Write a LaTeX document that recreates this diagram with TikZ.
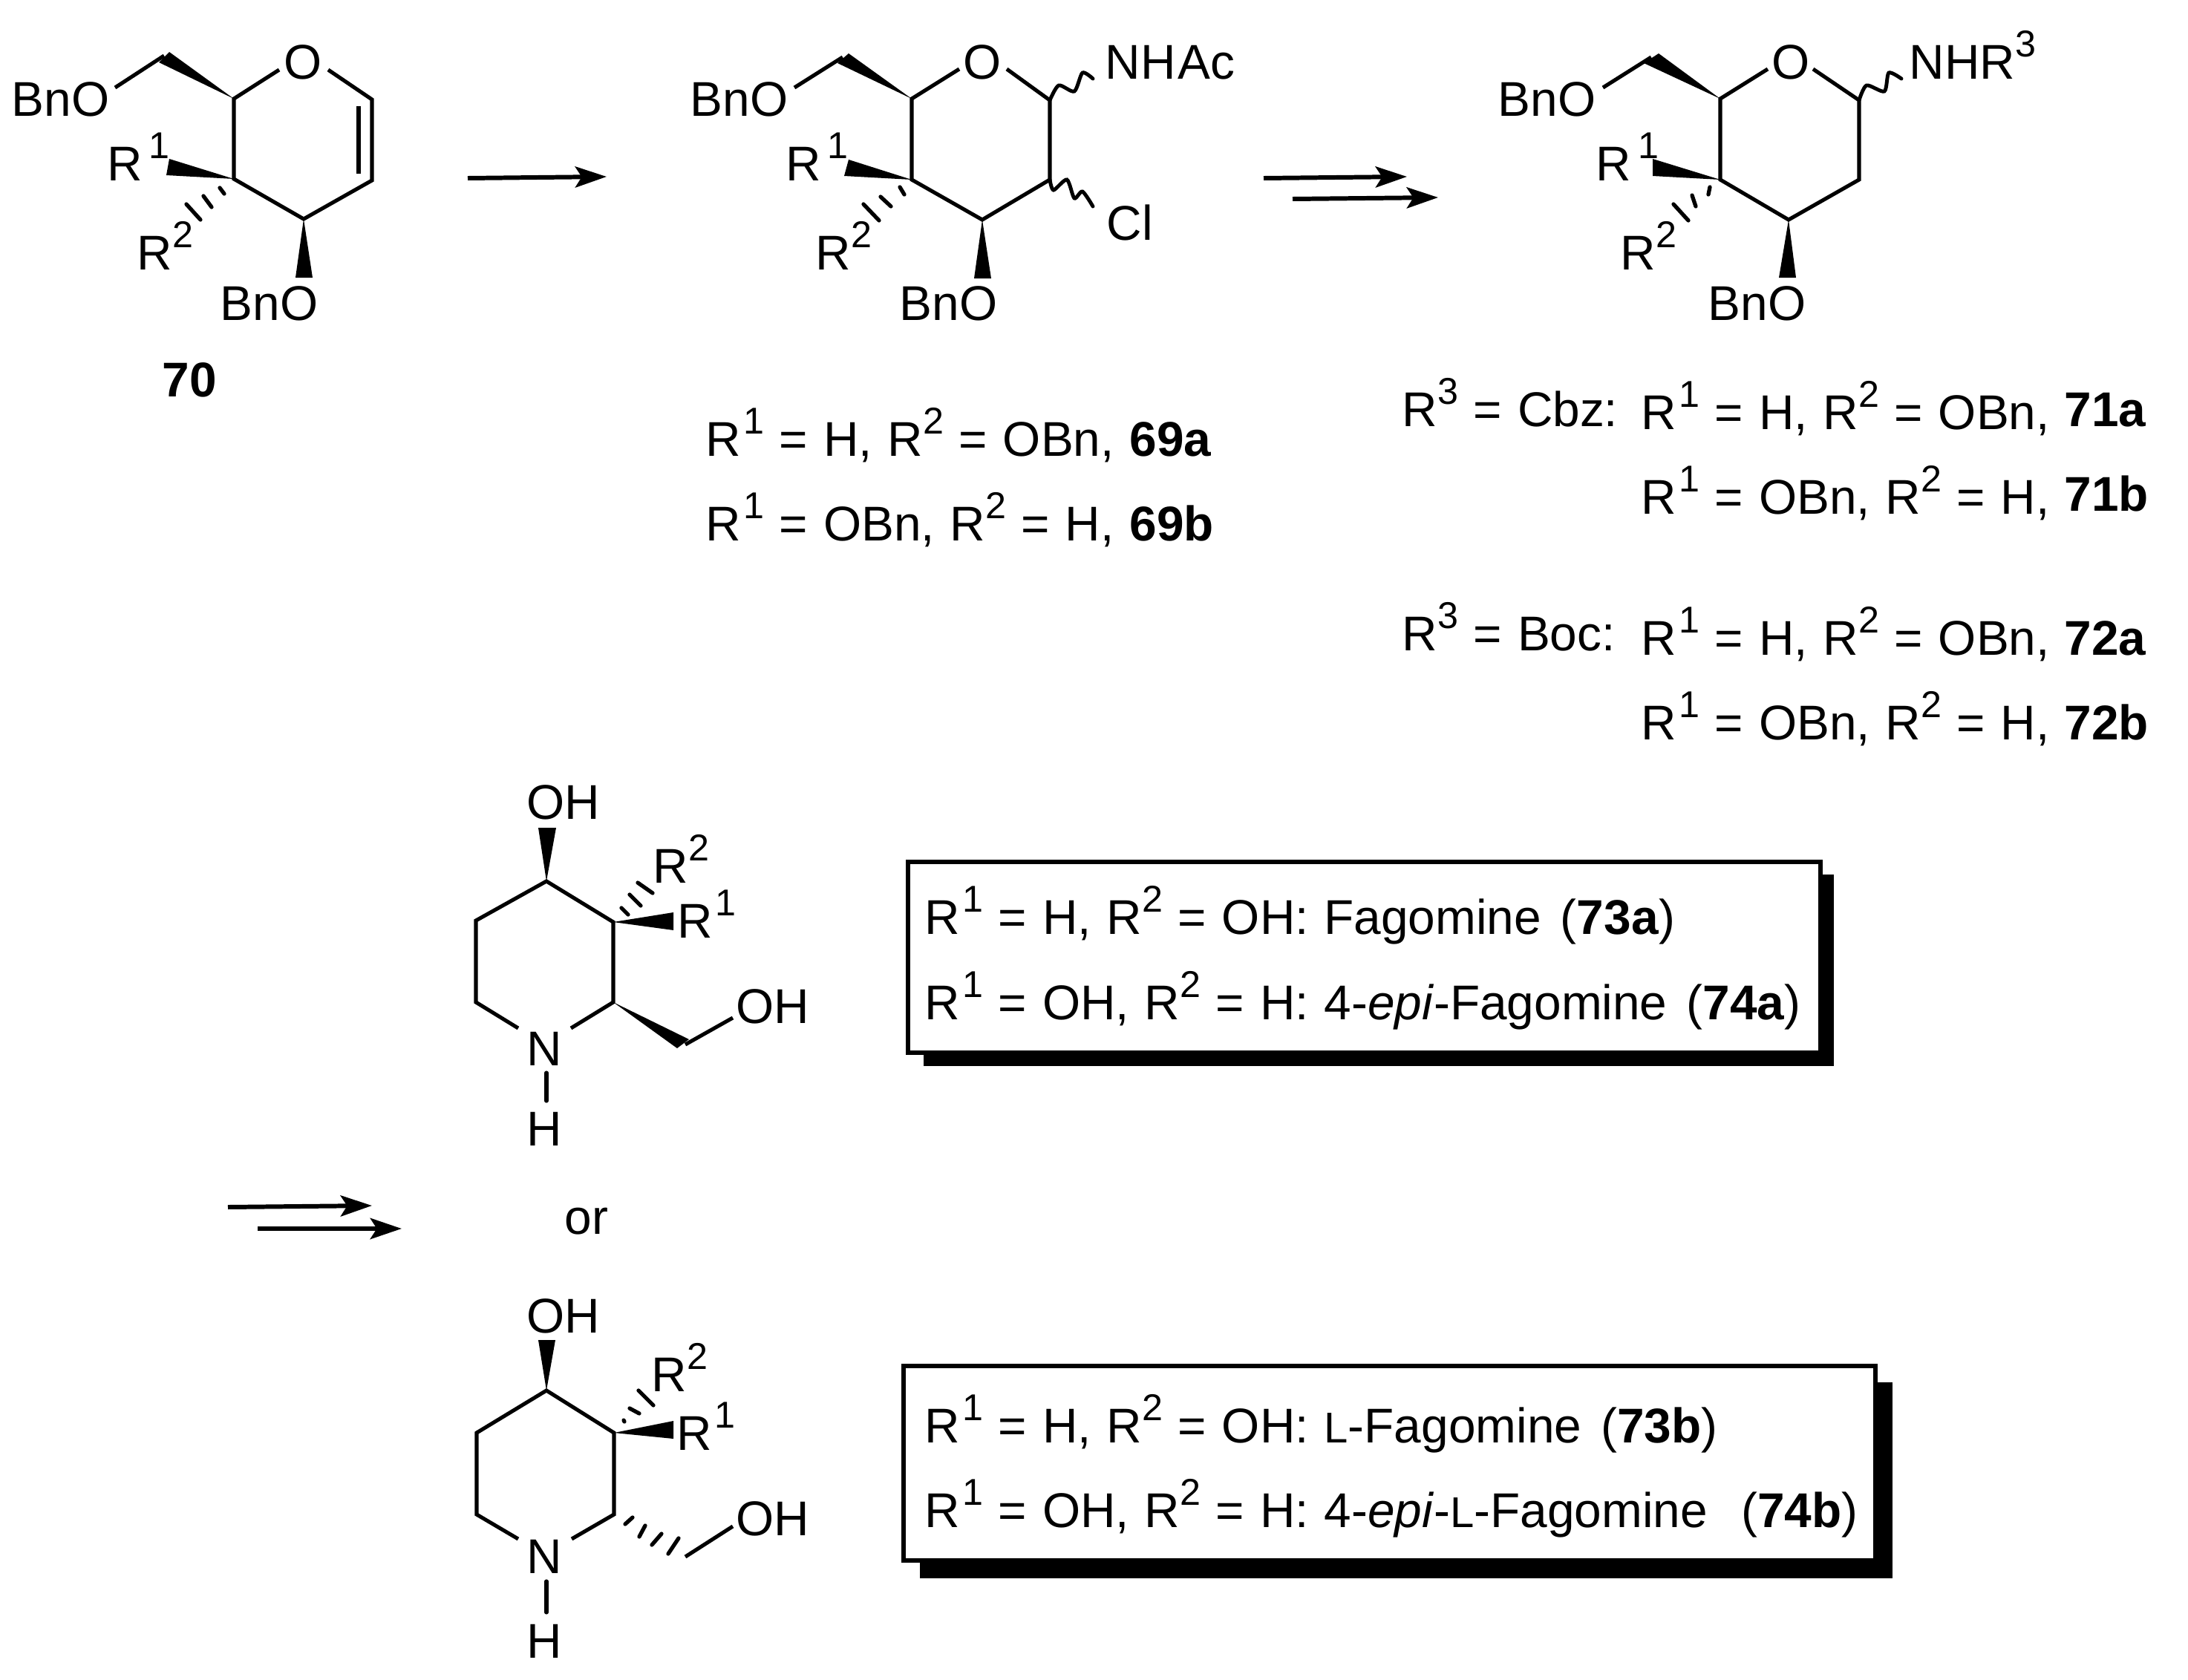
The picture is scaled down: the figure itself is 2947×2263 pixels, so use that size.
\documentclass[tikz,border=0pt]{standalone}
\usepackage{fontspec}
\setmainfont{Liberation Sans}
\usetikzlibrary{arrows.meta}

\newcommand{\Rsup}[2][0pt]{R\kern#1\raisebox{8.5pt}{\fontsize{14.3}{16}\selectfont #2}}
\newcommand{\wedgebond}[3]{\fill (#1) -- (#2) -- (#3) -- cycle;}

\tikzset{
    atom/.style={anchor=base west,inner sep=0pt,font={\fontsize{18.7}{22}\selectfont\spaceskip=5.9pt\relax}},
    bond/.style={line width=1.45pt,line join=miter},
    hashbond/.style={line width=1.5pt,line cap=round},
    wavybond/.style={line width=1.4pt,line cap=round,smooth,tension=0.45},
    rxn/.style={line width=1.7pt,-{Stealth[length=12pt,width=8pt,inset=2.5pt]}},
    boxframe/.style={line width=1.8pt,fill=white}
}

\begin{document}
\begin{tikzpicture}[x=0.01cm,y=-0.01cm]
    \useasboundingbox (0,0) rectangle (2947,2263);

    % compound 70
    \coordinate (c1a) at (501,134);
    \coordinate (c2a) at (501,243);
    \coordinate (c3a) at (409,295);
    \coordinate (c4a) at (315,241);
    \coordinate (c5a) at (315,133);
    \coordinate (c6a) at (221,75);
    \coordinate (o5a) at (376,94);
    \coordinate (o1a) at (442,94);
    \coordinate (o6a) at (155,118);
    \coordinate (d1a) at (483,143);
    \coordinate (d2a) at (483,234);
    \node[atom] (O70) at (382,106) {O};
    \node[atom] (Bn70a) at (15,156) {BnO};
    \node[atom] (R70a) at (144,243) {\Rsup[2.5pt]{1}};
    \node[atom] (R70b) at (184,363) {\Rsup{2}};
    \node[atom] (Bn70b) at (296,431) {BnO};
    \node[atom] (L70) at (218,534) {\textbf{70}};
    \draw[bond] (o5a) -- (c5a) -- (c4a) -- (c3a) -- (c2a) -- (c1a) -- (o1a);
    \draw[bond] (d1a) -- (d2a);
    \draw[bond] (o6a) -- (c6a);
    \wedgebond{c5a}{214,84}{228,70}
    \wedgebond{c4a}{228,214}{224,236}
    \wedgebond{c3a}{398,374}{421,374}
    \draw[hashbond] (296,253) -- (302,261);
    \draw[hashbond] (274,264) -- (285,279);
    \draw[hashbond] (251,275) -- (270,296);

    % first arrow
    \coordinate (a1s) at (630,240);
    \coordinate (a1e) at (817,238);
    \draw[rxn] (a1s) -- (a1e);

    % compound 69
    \coordinate (c1b) at (1414,135);
    \coordinate (c2b) at (1414,242);
    \coordinate (c3b) at (1323,296);
    \coordinate (c4b) at (1228,242);
    \coordinate (c5b) at (1228,133);
    \coordinate (c6b) at (1135,77);
    \coordinate (o5b) at (1292,93);
    \coordinate (o1b) at (1356,93);
    \coordinate (o6b) at (1070,118);
    \coordinate (nb) at (1472,106);
    \coordinate (clb) at (1472,278);
    \node[atom] (O69) at (1297,106) {O};
    \node[atom] (Bn69a) at (929,156) {BnO};
    \node[atom] (Ac69) at (1488,106) {NH\kern0.8ptAc};
    \node[atom] (Cl69) at (1490,323) {Cl};
    \node[atom] (R69a) at (1058,243) {\Rsup[2.5pt]{1}};
    \node[atom] (R69b) at (1098,363) {\Rsup{2}};
    \node[atom] (Bn69b) at (1211,431) {BnO};
    \draw[bond] (o5b) -- (c5b) -- (c4b) -- (c3b) -- (c2b) -- (c1b) -- (o1b);
    \draw[bond] (o6b) -- (c6b);
    \draw[wavybond] plot coordinates {(c1b) (1426,115) (1447,123) (1458,98) (nb)};
    \draw[wavybond] plot coordinates {(c2b) (1419,256) (1437,242) (1447,267) (1458,258) (clb)};
    \wedgebond{c5b}{1128,85}{1143,72}
    \wedgebond{c4b}{1143,215}{1137,237}
    \wedgebond{c3b}{1312,375}{1335,375}
    \draw[hashbond] (1212,252) -- (1218,262);
    \draw[hashbond] (1186,265) -- (1200,278);
    \draw[hashbond] (1163,275) -- (1184,297);

    \node[atom] (T69a) at (950,614) {\Rsup[0.85pt]{1} = H, \Rsup{2} = OBn, \textbf{69a}};
    \node[atom] (T69b) at (950,728) {\Rsup[0.85pt]{1} = OBn, \Rsup{2} = H, \textbf{69b}};

    % double arrow, top
    \coordinate (a2s) at (1702,240);
    \coordinate (a2e) at (1895,238);
    \coordinate (a3s) at (1741,268);
    \coordinate (a3e) at (1937,266);
    \draw[rxn] (a2s) -- (a2e);
    \draw[rxn] (a3s) -- (a3e);

    % compound 71/72
    \coordinate (c1c) at (2504,135);
    \coordinate (c2c) at (2504,242);
    \coordinate (c3c) at (2409,296);
    \coordinate (c4c) at (2317,242);
    \coordinate (c5c) at (2317,133);
    \coordinate (c6c) at (2224,77);
    \coordinate (o5c) at (2381,93);
    \coordinate (o1c) at (2442,93);
    \coordinate (o6c) at (2159,118);
    \coordinate (nc) at (2561,106);
    \node[atom] (O71) at (2386,106) {O};
    \node[atom] (Bn71a) at (2017,156) {BnO};
    \node[atom] (N71) at (2571,106) {NH\Rsup{3}};
    \node[atom] (R71a) at (2149,243) {\Rsup[2.5pt]{1}};
    \node[atom] (R71b) at (2182,363) {\Rsup{2}};
    \node[atom] (Bn71b) at (2300,431) {BnO};
    \draw[bond] (o5c) -- (c5c) -- (c4c) -- (c3c) -- (c2c) -- (c1c) -- (o1c);
    \draw[bond] (o6c) -- (c6c);
    \draw[wavybond] plot coordinates {(c1c) (2514,115) (2538,123) (2544,98) (nc)};
    \wedgebond{c5c}{2214,85}{2234,72}
    \wedgebond{c4c}{2226,214}{2226,237}
    \wedgebond{c3c}{2396,374}{2419,374}
    \draw[hashbond] (2303,252) -- (2301,262);
    \draw[hashbond] (2279,263) -- (2284,278);
    \draw[hashbond] (2254,275) -- (2274,297);

    \node[atom] (Tcbz) at (1888,574) {\Rsup{3} = Cbz:};
    \node[atom] (T71a) at (2210,578) {\Rsup[0.85pt]{1} = H, \Rsup{2} = OBn,};
    \node[atom] (L71a) at (2780,574) {\textbf{71a}};
    \node[atom] (T71b) at (2210,692) {\Rsup[0.85pt]{1} = OBn, \Rsup{2} = H,};
    \node[atom] (L71b) at (2780,688) {\textbf{71b}};
    \node[atom] (Tboc) at (1888,876) {\Rsup{3} = Boc:};
    \node[atom] (T72a) at (2210,882) {\Rsup[0.85pt]{1} = H, \Rsup{2} = OBn,};
    \node[atom] (L72a) at (2780,882) {\textbf{72a}};
    \node[atom] (T72b) at (2210,996) {\Rsup[0.85pt]{1} = OBn, \Rsup{2} = H,};
    \node[atom] (L72b) at (2780,996) {\textbf{72b}};

    % fagomine
    \coordinate (p4a) at (736,1187);
    \coordinate (p5a) at (641,1240);
    \coordinate (p6a) at (641,1350);
    \coordinate (p3a) at (826,1242);
    \coordinate (p2a) at (826,1350);
    \coordinate (n6a) at (698,1385);
    \coordinate (n2a) at (769,1385);
    \coordinate (nha) at (736,1445);
    \coordinate (nhb) at (736,1483);
    \coordinate (cha) at (923,1407);
    \coordinate (oha) at (987,1371);
    \node[atom] (OH73a) at (709,1103) {OH};
    \node[atom] (OH73b) at (991,1378) {OH};
    \node[atom] (N73) at (709,1435) {N};
    \node[atom] (H73) at (709,1543) {H};
    \node[atom] (R73a) at (912,1263) {\Rsup[1pt]{1}};
    \node[atom] (R73b) at (879,1189) {\Rsup{2}};
    \draw[bond] (n6a) -- (p6a) -- (p5a) -- (p4a) -- (p3a) -- (p2a) -- (n2a);
    \draw[bond,line cap=round] (nha) -- (nhb);
    \draw[bond] (cha) -- (oha);
    \wedgebond{p4a}{725,1115}{749,1115}
    \wedgebond{p3a}{907,1229}{907,1253}
    \wedgebond{p2a}{912,1412}{928,1400}
    \draw[hashbond] (837,1223) -- (846,1232);
    \draw[hashbond] (848,1205) -- (863,1220);
    \draw[hashbond] (859,1189) -- (879,1203);

    % shadow box, fagomine
    \fill (1244,1178) rectangle (2470,1436);
    \draw[boxframe] (1223,1161) rectangle (2452,1418);
    \node[atom] (T73a) at (1245,1258) {\Rsup[0.85pt]{1} = H, \Rsup{2} = OH: Fagomine \kern1.5pt(\textbf{73a})};
    \node[atom] (T74a) at (1245,1373) {\Rsup[0.85pt]{1} = OH, \Rsup{2} = H: 4-\textit{epi}-Fagomine \kern1.5pt(\textbf{74a})};

    % double arrow, bottom
    \coordinate (a4s) at (307,1626);
    \coordinate (a4e) at (501,1624);
    \coordinate (a5s) at (347,1655);
    \coordinate (a5e) at (541,1655);
    \draw[rxn] (a4s) -- (a4e);
    \draw[rxn] (a5s) -- (a5e);
    \node[atom] (Or) at (760,1662) {or};

    % L-fagomine
    \coordinate (q4a) at (736,1873);
    \coordinate (q5a) at (642,1930);
    \coordinate (q6a) at (642,2040);
    \coordinate (q3a) at (827,1930);
    \coordinate (q2a) at (827,2040);
    \coordinate (m6a) at (698,2073);
    \coordinate (m2a) at (770,2073);
    \coordinate (mha) at (736,2130);
    \coordinate (mhb) at (736,2172);
    \coordinate (qha) at (923,2097);
    \coordinate (qhb) at (987,2056);
    \node[atom] (OH74a) at (709,1795) {OH};
    \node[atom] (OH74b) at (991,2068) {OH};
    \node[atom] (N74) at (709,2119) {N};
    \node[atom] (H74) at (709,2233) {H};
    \node[atom] (R74a) at (911,1953) {\Rsup[1pt]{1}};
    \node[atom] (R74b) at (877,1874) {\Rsup{2}};
    \draw[bond] (m6a) -- (q6a) -- (q5a) -- (q4a) -- (q3a) -- (q2a) -- (m2a);
    \draw[bond,line cap=round] (mha) -- (mhb);
    \draw[bond] (qha) -- (qhb);
    \wedgebond{q4a}{725,1805}{748,1805}
    \wedgebond{q3a}{907,1914}{907,1938}
    \draw[hashbond] (840,1913) -- (841,1915);
    \draw[hashbond] (848,1897) -- (861,1904);
    \draw[hashbond] (860,1873) -- (880,1893);
    \draw[hashbond] (842,2053) -- (852,2044);
    \draw[hashbond] (861,2070) -- (869,2055);
    \draw[hashbond] (878,2081) -- (891,2066);
    \draw[hashbond] (900,2093) -- (914,2072);

    % shadow box, L-fagomine
    \fill (1239,1862) rectangle (2549,2126);
    \draw[boxframe] (1217,1840) rectangle (2526,2102);
    \node[atom] (T73b) at (1245,1943) {\Rsup[0.85pt]{1} = H, \Rsup{2} = OH: {\fontsize{16.5}{20}\selectfont L}-Fagomine \kern1.5pt(\textbf{73b})};
    \node[atom] (T74b) at (1245,2057) {\Rsup[0.85pt]{1} = OH, \Rsup{2} = H: 4-\textit{epi}-{\fontsize{16.5}{20}\selectfont L}-Fagomine\kern 13pt (\textbf{74b})};
\end{tikzpicture}
\end{document}
